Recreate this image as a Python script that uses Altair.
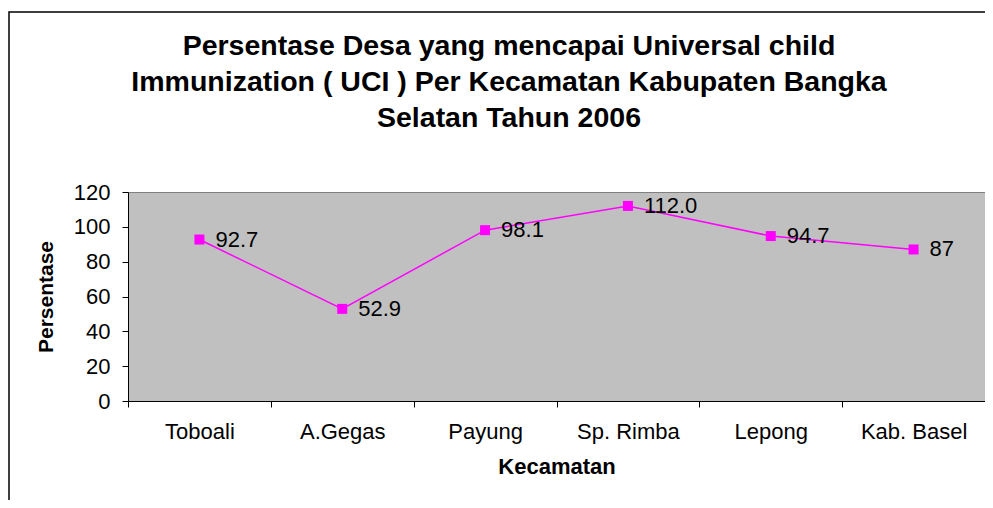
import altair as alt
import pandas as pd

categories = ["Toboali", "A.Gegas", "Payung", "Sp. Rimba", "Lepong", "Kab. Basel"]
values = [92.7, 52.9, 98.1, 112.0, 94.7, 87]
labels = ["92.7", "52.9", "98.1", "112.0", "94.7", "87"]
title_lines = [
    "Persentase Desa yang mencapai Universal child",
    "Immunization ( UCI ) Per Kecamatan Kabupaten Bangka",
    "Selatan Tahun 2006",
]

df = pd.DataFrame({"Kecamatan": categories, "Persentase": values, "label": labels})

FONT = "Liberation Sans"
W, H = 857, 209

x = alt.X(
    "Kecamatan:N",
    sort=categories,
    scale=alt.Scale(paddingInner=0, paddingOuter=0),
    axis=alt.Axis(
        title="Kecamatan",
        labelAngle=0,
        tickBand="extent",
        labelFontSize=22,
        labelPadding=14,
        titleFontSize=22,
        titleFontWeight="bold",
        titlePadding=14,
    ),
)
y = alt.Y(
    "Persentase:Q",
    scale=alt.Scale(domain=[0, 120]),
    axis=alt.Axis(
        title="Persentase",
        values=[0, 20, 40, 60, 80, 100, 120],
        labelFontSize=22,
        labelPadding=12,
        titleFontSize=21,
        titleFontWeight="bold",
        titleX=-82,
        titleY=H / 2,
        titleBaseline="middle",
        titleAlign="center",
        titleAngle=-90,
    ),
)

base = alt.Chart(df)
first = "datum.Kecamatan == 'Toboali'"

frame = base.mark_rect(fill=None, stroke="black", strokeWidth=1.5, clip=False).encode(
    x=alt.value(-119), x2=alt.value(W + 60), y=alt.value(-180), y2=alt.value(H + 200)
).transform_filter(first)

title = base.mark_text(
    align="center", baseline="middle", fontSize=28.5, font=FONT, fontWeight="bold",
    color="black", lineHeight=36,
).encode(
    x=alt.value(509 - 128), y=alt.value(46 - 192), text=alt.value(title_lines)
).transform_filter(first)

line = base.mark_line(color="#FF00FF", strokeWidth=1.5).encode(x=x, y=y)
points = base.mark_square(color="#FF00FF", size=100, opacity=1, filled=True).encode(x=x, y=y)
text = base.mark_text(align="left", baseline="middle", dx=16, fontSize=22, font=FONT, color="black").encode(
    x=x, y=y, text="label:N"
)

chart = (
    alt.layer(frame, title, line, points, text)
    .properties(
        width=W,
        height=H,
        autosize=alt.AutoSizeParams(type="none"),
        padding={"left": 120, "top": 184, "right": 0, "bottom": 99},
        background="white",
    )
    .configure_view(fill="#C0C0C0", stroke="#808080", strokeWidth=1)
    .configure_axis(
        labelFont=FONT,
        titleFont=FONT,
        labelColor="black",
        titleColor="black",
        domainColor="black",
        tickColor="black",
        tickSize=6,
        grid=False,
        domainWidth=1,
    )
)

chart.save("out.html", embed_options={"renderer": "svg", "actions": False})
